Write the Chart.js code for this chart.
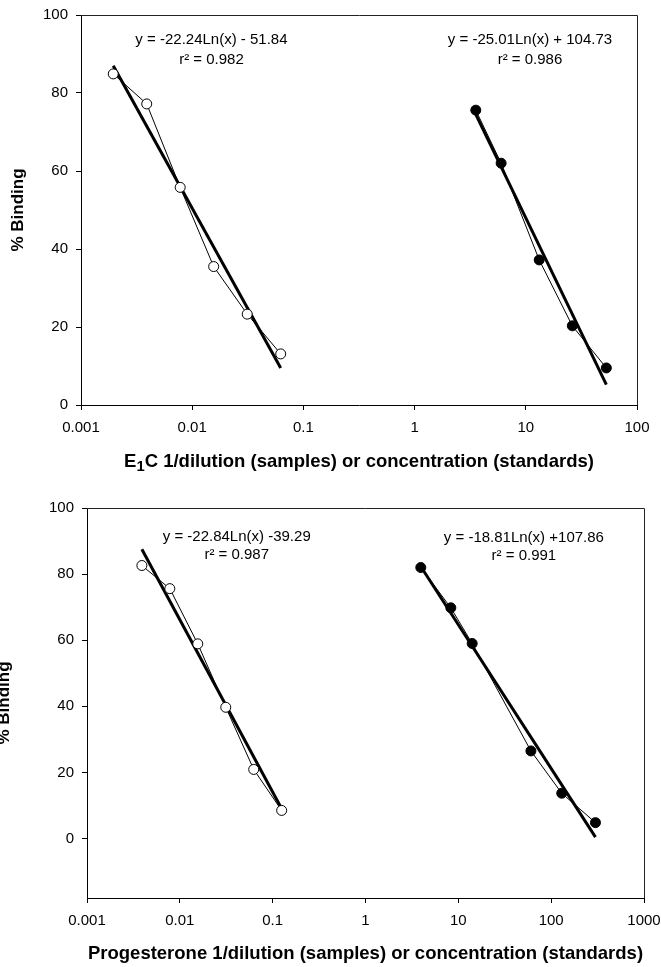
<!DOCTYPE html>
<html>
<head>
<meta charset="utf-8">
<script src="https://cdn.jsdelivr.net/npm/chart.js@4.4.1/dist/chart.umd.min.js"></script>
<style>
  html, body { margin: 0; padding: 0; background: #fff; }
  canvas { position: absolute; left: 0; }
  #chartE1C { top: 0; }
  #chartP4 { top: 480px; }
</style>
</head>
<body>
<canvas id="chartE1C" width="661" height="480"></canvas>
<canvas id="chartP4" width="661" height="487"></canvas>
<script>
// --- E1C : samples (open circles) and standards (filled circles)
const e1cSampleX = [0.00195, 0.0039, 0.0078, 0.0156, 0.03125, 0.0625];
const e1cSampleY = [84.9, 77.2, 55.8, 35.5, 23.3, 13.1];
const e1cStdX = [3.55, 6.0, 13.2, 26.2, 53];
const e1cStdY = [75.6, 62.0, 37.2, 20.3, 9.5];
// regression lines (end points)
const e1cSampleFitX = [0.00195, 0.0625];
const e1cSampleFitY = [87.0, 9.5];
const e1cStdFitX = [3.55, 53];
const e1cStdFitY = [74.5, 5.2];
const e1cEquations = [
  ['y = -22.24Ln(x) - 51.84', 'r\u00b2 = 0.982'],
  ['y = -25.01Ln(x) + 104.73', 'r\u00b2 = 0.986']
];
const e1cXTicks = [0.001, 0.01, 0.1, 1, 10, 100];
const e1cXLabels = ['0.001', '0.01', '0.1', '1', '10', '100'];

// --- Progesterone
const p4SampleX = [0.0039, 0.0078, 0.0156, 0.03125, 0.0625, 0.125];
const p4SampleY = [82.6, 75.6, 58.9, 39.7, 20.9, 8.5];
const p4StdX = [3.94, 8.3, 14.1, 60.5, 130, 300];
const p4StdY = [82.0, 69.8, 59.0, 26.5, 13.7, 4.8];
const p4SampleFitX = [0.0039, 0.125];
const p4SampleFitY = [87.5, 9.0];
const p4StdFitX = [3.94, 300];
const p4StdFitY = [82.3, 0.4];
const p4Equations = [
  ['y = -22.84Ln(x) -39.29', 'r\u00b2 = 0.987'],
  ['y = -18.81Ln(x) +107.86', 'r\u00b2 = 0.991']
];
const p4XTicks = [0.001, 0.01, 0.1, 1, 10, 100, 1000];
const p4XLabels = ['0.001', '0.01', '0.1', '1', '10', '100', '1000'];

const yTicks = [0, 20, 40, 60, 80, 100];

Chart.defaults.font.family = '"Liberation Sans", Arial, sans-serif';
Chart.defaults.font.size = 15;
Chart.defaults.color = '#000';

function pts(xs, ys) {
  return xs.map((x, i) => ({ x: x, y: ys[i] }));
}

// draw a line of text made of pieces (for the subscript in E1C)
function drawRich(ctx, parts, cx, cy, size) {
  let total = 0;
  parts.forEach(p => {
    ctx.font = 'bold ' + (p.sub ? size * 0.8 : size) + 'px "Liberation Sans", Arial, sans-serif';
    p.w = ctx.measureText(p.t).width;
    total += p.w;
  });
  let x = cx - total / 2;
  ctx.textAlign = 'left';
  ctx.textBaseline = 'middle';
  parts.forEach(p => {
    ctx.font = 'bold ' + (p.sub ? size * 0.8 : size) + 'px "Liberation Sans", Arial, sans-serif';
    ctx.fillText(p.t, x, cy + (p.sub ? 5 : 0));
    x += p.w;
  });
}

const extras = {
  id: 'extras',
  beforeDatasetsDraw(chart) {
    const a = chart.chartArea;
    const ctx = chart.ctx;
    ctx.save();
    ctx.strokeStyle = '#222';
    ctx.lineWidth = 1;
    ctx.beginPath();
    ctx.moveTo(a.left, a.top + 0.5);
    ctx.lineTo(a.right + 0.5, a.top + 0.5);
    ctx.lineTo(a.right + 0.5, a.bottom);
    ctx.stroke();
    ctx.restore();
  },
  afterDraw(chart, args, opts) {
    const ctx = chart.ctx;
    const a = chart.chartArea;
    const sx = chart.scales.x, sy = chart.scales.y;
    ctx.save();
    ctx.fillStyle = '#000';
    // equations
    ctx.font = '15px "Liberation Sans", Arial, sans-serif';
    ctx.textAlign = 'center';
    ctx.textBaseline = 'middle';
    opts.notes.forEach(n => {
      const px = sx.getPixelForValue(n.x);
      ctx.fillText(n.lines[0], px, sy.getPixelForValue(n.y1));
      ctx.fillText(n.lines[1], px, sy.getPixelForValue(n.y2));
    });
    // x title
    drawRich(ctx, opts.xTitle, (a.left + a.right) / 2, opts.xTitleY, 18.5);
    // y title
    ctx.save();
    ctx.translate(opts.yTitleX, (a.top + a.bottom) / 2);
    ctx.rotate(-Math.PI / 2);
    ctx.font = 'bold 17px "Liberation Sans", Arial, sans-serif';
    ctx.textAlign = 'center';
    ctx.textBaseline = 'middle';
    ctx.fillText('% Binding', 0, 0);
    ctx.restore();
    ctx.restore();
  }
};

function makeChart(id, cfg) {
  const ctx = document.getElementById(id).getContext('2d');
  return new Chart(ctx, {
    type: 'scatter',
    data: {
      datasets: [
        {
          data: pts(cfg.sampleX, cfg.sampleY), showLine: true,
          borderColor: '#000', borderWidth: 1, backgroundColor: '#fff',
          pointRadius: 5, pointBorderWidth: 1, pointBorderColor: '#000',
          pointBackgroundColor: '#fff', order: 0
        },
        {
          data: pts(cfg.stdX, cfg.stdY), showLine: true,
          borderColor: '#000', borderWidth: 1, backgroundColor: '#000',
          pointRadius: 5, pointBorderWidth: 1, pointBorderColor: '#000',
          pointBackgroundColor: '#000', order: 0
        },
        {
          data: pts(cfg.sampleFitX, cfg.sampleFitY), showLine: true,
          borderColor: '#000', borderWidth: 3, pointRadius: 0, order: 1
        },
        {
          data: pts(cfg.stdFitX, cfg.stdFitY), showLine: true,
          borderColor: '#000', borderWidth: 3, pointRadius: 0, order: 1
        }
      ]
    },
    options: {
      responsive: false,
      animation: false,
      layout: { padding: cfg.padding },
      plugins: {
        legend: { display: false },
        tooltip: { enabled: false },
        extras: { notes: cfg.notes, xTitle: cfg.xTitle, xTitleY: cfg.xTitleY, yTitleX: cfg.yTitleX }
      },
      scales: {
        x: {
          type: 'logarithmic',
          min: cfg.xTicks[0],
          max: cfg.xTicks[cfg.xTicks.length - 1],
          afterBuildTicks: s => { s.ticks = cfg.xTicks.map(v => ({ value: v })); },
          afterFit: s => { s.height = cfg.xHeight; s.paddingLeft = 0; s.paddingRight = 0; },
          ticks: {
            autoSkip: false, maxRotation: 0, padding: 9,
            callback: (v, i) => cfg.xLabels[i]
          },
          grid: { drawOnChartArea: false, color: '#000', tickLength: 5 },
          border: { color: '#000', width: 1 }
        },
        y: {
          min: cfg.yMin,
          max: 100,
          afterBuildTicks: s => { s.ticks = yTicks.map(v => ({ value: v })); },
          afterFit: s => { s.width = cfg.yWidth; s.paddingTop = 0; s.paddingBottom = 0; },
          ticks: { padding: 8 },
          grid: { drawOnChartArea: false, color: '#000', tickLength: 5 },
          border: { color: '#000', width: 1 }
        }
      }
    },
    plugins: [extras]
  });
}

makeChart('chartE1C', {
  sampleX: e1cSampleX, sampleY: e1cSampleY, stdX: e1cStdX, stdY: e1cStdY,
  sampleFitX: e1cSampleFitX, sampleFitY: e1cSampleFitY,
  stdFitX: e1cStdFitX, stdFitY: e1cStdFitY,
  xTicks: e1cXTicks, xLabels: e1cXLabels, yMin: 0,
  padding: { left: 0, right: 24, top: 15, bottom: 0 },
  xHeight: 75, yWidth: 81,
  notes: [
    { x: 0.0149, y1: 93.5, y2: 88.5, lines: e1cEquations[0] },
    { x: 10.9, y1: 93.5, y2: 88.5, lines: e1cEquations[1] }
  ],
  xTitle: [{ t: 'E' }, { t: '1', sub: true }, { t: 'C 1/dilution (samples) or concentration (standards)' }],
  xTitleY: 462, yTitleX: 18
});

makeChart('chartP4', {
  sampleX: p4SampleX, sampleY: p4SampleY, stdX: p4StdX, stdY: p4StdY,
  sampleFitX: p4SampleFitX, sampleFitY: p4SampleFitY,
  stdFitX: p4StdFitX, stdFitY: p4StdFitY,
  xTicks: p4XTicks, xLabels: p4XLabels, yMin: -18,
  padding: { left: 0, right: 17, top: 28, bottom: 0 },
  xHeight: 69, yWidth: 87,
  notes: [
    { x: 0.041, y1: 91.4, y2: 85.7, lines: p4Equations[0] },
    { x: 50.8, y1: 91.1, y2: 85.4, lines: p4Equations[1] }
  ],
  xTitle: [{ t: 'Progesterone 1/dilution (samples) or concentration (standards)' }],
  xTitleY: 474, yTitleX: 4.5
});
</script>
</body>
</html>
